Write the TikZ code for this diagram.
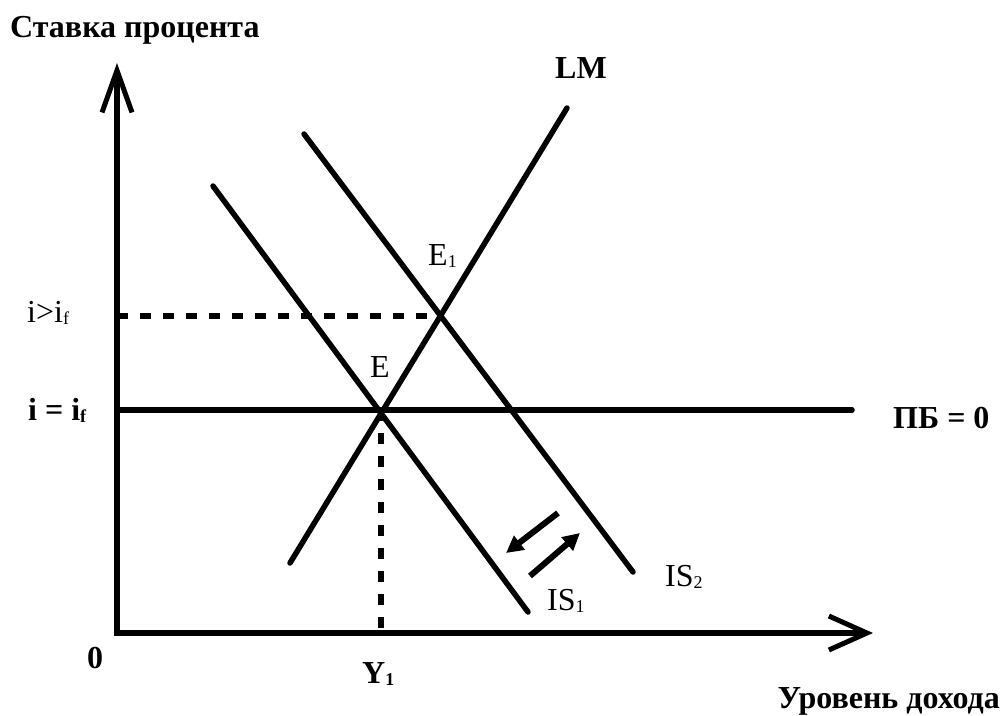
\documentclass[tikz,border=0pt]{standalone}
\usepackage{fontspec}
\setmainfont{Liberation Serif}
\usetikzlibrary{arrows.meta}
\newcommand\lowsub[1]{\raisebox{-2pt}{\fontsize{18}{18}\selectfont #1}}
\tikzset{
  curve/.style={line width=5.5pt, line cap=round},
  axisline/.style={line width=6pt, line join=miter,
     {Straight Barb[length=42pt,width=30pt,line width=5pt]}-{Straight Barb[length=38pt,width=34pt,line width=5pt]}},
  guide/.style={line width=6pt, dash pattern=on 11pt off 12pt},
  shift arrow/.style={line width=6pt, -{Triangle[length=17pt,width=17pt]}},
  lbl/.style={inner sep=0pt, anchor=base west, font=\fontsize{32}{38}\selectfont},
  blbl/.style={lbl, font=\fontsize{32}{38}\selectfont\bfseries},
}
\begin{document}
\begin{tikzpicture}[x=1pt,y=-1pt]
\useasboundingbox (0,0) rectangle (1004,715);
% coordinates
\coordinate (O) at (117,633);
\coordinate (ytip) at (117,63);
\coordinate (xtip) at (873,633);
\coordinate (pbL) at (117,410);
\coordinate (pbR) at (852,410);
\coordinate (lmA) at (290,563);
\coordinate (lmB) at (567,108);
\coordinate (isA1) at (213,186);
\coordinate (isB1) at (528,612);
\coordinate (isA2) at (304,134);
\coordinate (isB2) at (633,572);
\coordinate (E) at (381,410);
\coordinate (E1) at (440,316);
\coordinate (yE1) at (117,316);
\coordinate (xE) at (381,633);
\coordinate (a1s) at (558,513);
\coordinate (a1e) at (506,553);
\coordinate (a2s) at (530,576);
\coordinate (a2e) at (580,533);
% axes
\draw[axisline] (ytip) -- (O) -- (xtip);
% lines
\draw[curve] (pbL) -- (pbR);
\draw[curve] (lmA) -- (lmB);
\draw[curve] (isA1) -- (isB1);
\draw[curve] (isA2) -- (isB2);
% guides
\draw[guide] (yE1) -- (E1);
\draw[guide] (E) -- (xE);
% shift arrows
\draw[shift arrow] (a1s) -- (a1e);
\draw[shift arrow] (a2s) -- (a2e);
% labels
\node[blbl] (ylab) at (10,37) {Ставка процента};
\node[blbl, anchor=base east] (xlab) at (1000,708) {Уровень дохода};
\node[blbl] (lmlab) at (555,78) {LM};
\node[lbl] (e1lab) at (428,265) {E\lowsub{1}};
\node[lbl] (elab) at (370,377) {E};
\node[lbl] (ilab) at (27,322) {i>i\lowsub{f}};
\node[blbl] (iflab) at (28,420) {i = i\lowsub{f}};
\node[blbl] (pblab) at (893,428) {ПБ = 0};
\node[blbl] (olab) at (87,668) {0};
\node[blbl] (ylab1) at (362,683) {Y\lowsub{1}};
\node[lbl] (is1lab) at (547,610) {IS\lowsub{1}};
\node[lbl] (is2lab) at (665,586) {IS\lowsub{2}};
\end{tikzpicture}
\end{document}
